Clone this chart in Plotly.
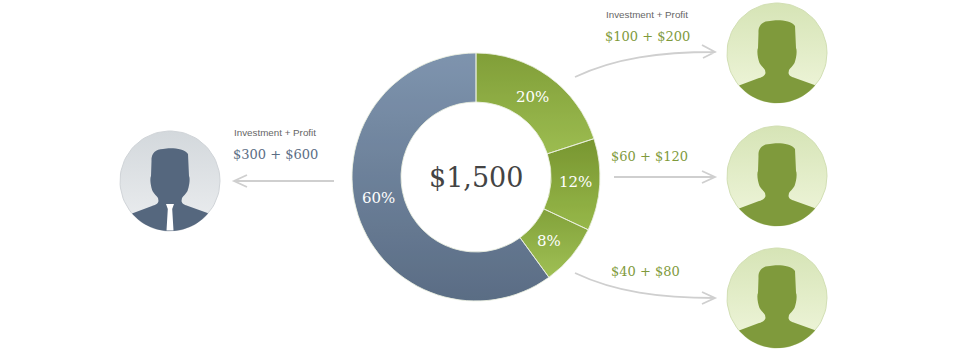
import math
import plotly.graph_objects as go

# ---- data ----
shares = [20, 12, 8, 60]
slice_names = ["Investor A", "Investor B", "Investor C", "Founder"]
total_label = "$1,500"
caption = "Investment + Profit"
flow_labels = ["$100 + $200", "$60 + $120", "$40 + $80", "$300 + $600"]

# ---- styles ----
W, H = 960, 359
CX, CY, R_OUT, R_IN = 476, 177, 124, 75
SERIF = "DejaVu Serif"
SANS = "Liberation Sans"
GREEN_TXT = "#7f9a3c"
BLUE_TXT = "#5b6d84"
ARROW = "#cfcfcf"
grad = [("#7f9c37", "#9fbf53"), ("#76932f", "#9abb4c"), ("#80a038", "#a2c357"), ("#8298b2", "#586a81")]
pct_pos = [(532, 97), (575, 182), (549, 241), (378, 198)]


def wedge(a0, a1, n=60):
    pts = []
    for i in range(n + 1):
        a = math.radians(a0 + (a1 - a0) * i / n)
        pts.append((CX + R_OUT * math.sin(a), CY - R_OUT * math.cos(a)))
    for i in range(n + 1):
        a = math.radians(a1 - (a1 - a0) * i / n)
        pts.append((CX + R_IN * math.sin(a), CY - R_IN * math.cos(a)))
    pts.append(pts[0])
    return [p[0] for p in pts], [p[1] for p in pts]


def circle(cx, cy, r, n=90):
    pts = [(cx + r * math.cos(2 * math.pi * i / n), cy + r * math.sin(2 * math.pi * i / n)) for i in range(n + 1)]
    return [p[0] for p in pts], [p[1] for p in pts]


def person_path(cx, cy, r):
    p = lambda dx, dy: f"{cx + dx:.1f},{cy + dy:.1f}"
    a0 = math.atan2(32, 37.5)
    a1 = math.pi - a0
    arc = " ".join(
        "L" + p(r * math.cos(a0 + (a1 - a0) * i / 30), r * math.sin(a0 + (a1 - a0) * i / 30))
        for i in range(31)
    )
    return (
        f"M{p(-18.5,-20)} C{p(-19,-28)} {p(-14,-32)} {p(-7,-32)} C{p(0,-33.5)} {p(14,-33)} {p(18,-27)}"
        f" L{p(19,-5)} C{p(20.5,-2)} {p(19,6)} {p(17.5,10)} C{p(16,13)} {p(13,15)} {p(12,17)}"
        f" L{p(11.5,20)} C{p(12,23)} {p(15,24)} {p(18,25)} L{p(37.5,32)} {arc}"
        f" L{p(-18,25)} C{p(-15,24)} {p(-12,23)} {p(-11.5,20)} L{p(-12,17)}"
        f" C{p(-13,15)} {p(-16,13)} {p(-17.5,10)} C{p(-19,6)} {p(-20.5,-2)} {p(-19,-5)} Z"
    )


def tie_path(cx, cy):
    p = lambda dx, dy: f"{cx + dx:.1f},{cy + dy:.1f}"
    return (
        f"M{p(-4,23)} L{p(4,23)} L{p(2.2,28)} L{p(3.5,49.5)} L{p(-3.5,49.5)} L{p(-2.2,28)} Z"
    )


fig = go.Figure()

# gradient under-painting for slices (angles derive from the shares)
start = 0.0
for s, (c0, c1) in zip(shares, grad):
    end = start + 360.0 * s / sum(shares)
    x, y = wedge(start, end)
    fig.add_trace(go.Scatter(
        x=x, y=y, mode="lines", line=dict(width=0), fill="toself", hoverinfo="skip", showlegend=False,
        fillgradient=dict(type="vertical", colorscale=[[0, c1], [1, c0]]),
    ))
    start = end

# avatars
avatars = [
    (170, 181, 50, "#d3d8dc", "#eceef0", "#55677e", "#d0d4d8", True),
    (777, 53, 50, "#d6e4b6", "#f0f6dc", "#7f9a3c", "#d2dfb4", False),
    (777, 176, 50, "#d6e4b6", "#f0f6dc", "#7f9a3c", "#d2dfb4", False),
    (777, 298, 50, "#d6e4b6", "#f0f6dc", "#7f9a3c", "#d2dfb4", False),
]
shapes = []
for cx, cy, r, top, bottom, fg, rim, tie in avatars:
    x, y = circle(cx, cy, r)
    fig.add_trace(go.Scatter(
        x=x, y=y, mode="lines", line=dict(width=1, color=rim), fill="toself", hoverinfo="skip", showlegend=False,
        fillgradient=dict(type="vertical", colorscale=[[0, bottom], [1, top]]),
    ))
    shapes.append(dict(type="path", path=person_path(cx, cy, r), fillcolor=fg, line=dict(width=0), layer="above",
                       xref="x", yref="y"))
    if tie:
        shapes.append(dict(type="path", path=tie_path(cx, cy), fillcolor="#ffffff", line=dict(width=0), layer="above",
                           xref="x", yref="y"))

# arrows
arrow_paths = [
    "M575,77 C615,58 660,52 715,52 M702,45 L715,52 L703,58",
    "M614,177 L715,177 M702,171 L715,177 L702,183",
    "M575,273 C615,292 660,298 715,298 M702,292 L715,298 L702,304",
    "M334,181 L234,181 M247,175 L234,181 L247,187",
]
for d in arrow_paths:
    shapes.append(dict(type="path", path=d, line=dict(color=ARROW, width=1.8), xref="x", yref="y", layer="above"))

# the slices themselves: a translucent tint over the gradient carries the separators
fig.add_trace(go.Pie(
    labels=slice_names, values=shares, sort=False, direction="clockwise", rotation=0, hole=R_IN / R_OUT,
    domain=dict(x=[(CX - R_OUT) / W, (CX + R_OUT) / W], y=[(H - CY - R_OUT) / H, (H - CY + R_OUT) / H]),
    marker=dict(colors=["rgba(143,173,68,0.15)", "rgba(137,167,62,0.15)", "rgba(145,177,72,0.15)", "rgba(108,128,151,0.15)"],
                line=dict(color="rgba(235,240,225,0.85)", width=1)),
    textinfo="none", showlegend=False, hoverinfo="label+percent",
))

ann = []


def text(x, y, t, size, color, family):
    ann.append(dict(x=x, y=y, text=t, xref="x", yref="y", showarrow=False, xanchor="center", yanchor="middle",
                    font=dict(family=family, size=size, color=color)))


for s, (px, py) in zip(shares, pct_pos):
    text(px, py, f"{s}%", 15, "#ffffff", SERIF)
text(CX, 177, total_label, 27, "#444444", SERIF)
text(647, 14, caption, 9.8, "#666666", SANS)
text(275, 132, caption, 9.8, "#666666", SANS)
text(647, 36, flow_labels[0], 13, GREEN_TXT, SERIF)
text(649, 156, flow_labels[1], 13, GREEN_TXT, SERIF)
text(645, 271, flow_labels[2], 13, GREEN_TXT, SERIF)
text(275, 154, flow_labels[3], 13, BLUE_TXT, SERIF)

fig.update_layout(
    width=W, height=H, margin=dict(l=0, r=0, t=0, b=0), paper_bgcolor="#ffffff", plot_bgcolor="#ffffff",
    xaxis=dict(range=[0, W], visible=False, fixedrange=True),
    yaxis=dict(range=[H, 0], visible=False, fixedrange=True),
    shapes=shapes, annotations=ann, showlegend=False,
)
fig.write_html("out.html", config=dict(displayModeBar=False),
               post_script="document.body.style.margin='0';document.body.style.overflow='hidden';")
